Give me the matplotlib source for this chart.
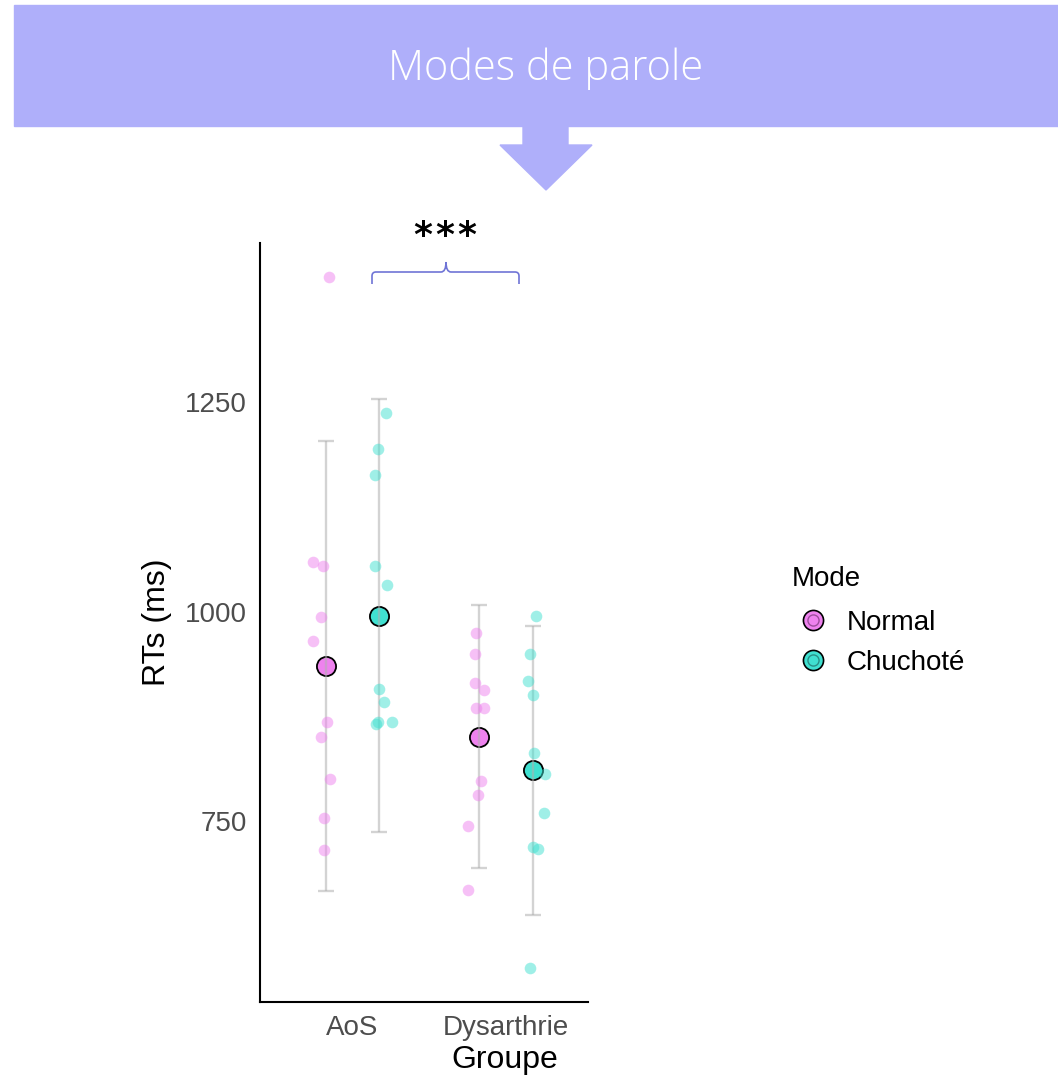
import matplotlib
matplotlib.use("Agg")
import numpy as np
import matplotlib.pyplot as plt
from matplotlib.patches import Rectangle, Polygon, PathPatch
from matplotlib.path import Path
from matplotlib.lines import Line2D
from matplotlib.legend_handler import HandlerTuple

plt.rcParams['font.family'] = ['Liberation Sans', 'DejaVu Sans']

# ---- data -----------------------------------------------------------------
groups = ["AoS", "Dysarthrie"]
modes = ["Normal", "Chuchoté"]

# participant mean RTs (ms)
aos_normal = [1398, 1059, 1054, 994, 965, 868, 851, 801, 754, 716]
aos_chuchote = [1236, 1194, 1163, 1054, 1032, 908, 892, 868, 866, 868]
dys_normal = [974, 949, 915, 907, 885, 885, 798, 781, 745, 668]
dys_chuchote = [995, 949, 917, 901, 831, 806, 760, 719, 717, 576]

# horizontal jitter of each participant point (fraction of group spacing)
jit_aos_normal = [0.02, -0.08, -0.02, -0.03, -0.08, 0.01, -0.03, 0.03, -0.01, -0.01]
jit_aos_chuchote = [0.04, -0.01, -0.03, -0.03, 0.05, 0.0, 0.03, -0.01, -0.02, 0.08]
jit_dys_normal = [-0.02, -0.03, -0.03, 0.03, -0.02, 0.03, 0.01, -0.01, -0.07, -0.07]
jit_dys_chuchote = [0.02, -0.02, -0.03, 0.0, 0.01, 0.08, 0.07, 0.0, 0.03, -0.02]

# condition means and standard deviations (ms), per group
mean_normal = [935, 851]
mean_chuchote = [995, 811]
sd_normal = [268, 157]
sd_chuchote = [258, 172]

# ---- styling ----------------------------------------------------------------
colors = {"Normal": "#EE82EE", "Chuchoté": "#40E0D0"}
ring = {"Normal": "#9C4E9C", "Chuchoté": "#2A8F86"}
dodge = 0.175
W, H = 1058, 1078

fig = plt.figure(figsize=(W / 100, H / 100), dpi=100)


def fx(px):
    return px / W


def fy(py):
    return 1 - py / H


ax = fig.add_axes([fx(260), fy(1002), 328 / W, 759 / H])

series = {
    "Normal": ([aos_normal, dys_normal], [jit_aos_normal, jit_dys_normal],
               mean_normal, sd_normal, -dodge),
    "Chuchoté": ([aos_chuchote, dys_chuchote], [jit_aos_chuchote, jit_dys_chuchote],
                 mean_chuchote, sd_chuchote, dodge),
}

all_vals = []
for mode, (vals, jits, means, sds, off) in series.items():
    xc = np.arange(1, len(groups) + 1) + off
    # mean markers
    ax.scatter(xc, means, s=190, color=colors[mode], edgecolor="black",
               linewidth=1.3, zorder=2)
    # +/- SD bars
    ax.errorbar(xc, means, yerr=sds, fmt="none", ecolor="#B0B0B0", alpha=0.55,
                elinewidth=1.7, capsize=5.5, capthick=1.7, zorder=3)
    # individual participants
    for g, (v, j) in enumerate(zip(vals, jits)):
        x = xc[g] + np.asarray(j)
        ax.scatter(x, v, s=70, color=colors[mode], alpha=0.5, linewidth=0,
                   zorder=4)
        all_vals.extend(v)

lo, hi = min(all_vals), max(all_vals)
pad = 0.05 * (hi - lo)
ax.set_ylim(lo - pad, hi + pad)
ax.set_xlim(0.397, 2.534)

ax.set_xticks([1, 2])
ax.set_xticklabels(groups)
ax.set_yticks([750, 1000, 1250])
ax.tick_params(axis="both", length=0, pad=9.5, labelsize=20, labelcolor="#4D4D4D")

for s in ("top", "right"):
    ax.spines[s].set_visible(False)
for s in ("left", "bottom"):
    ax.spines[s].set_linewidth(1.5)
    ax.spines[s].set_color("black")

ax.set_ylabel("RTs (ms)", fontsize=23)
ax.yaxis.set_label_coords(-0.268, 0.5)
ax.set_xlabel("Groupe", fontsize=23)
ax.xaxis.set_label_coords(0.747, -0.057)

# ---- legend ---------------------------------------------------------------
handles = []
for mode in modes:
    outer = Line2D([], [], ls="none", marker="o", markersize=14.5,
                   markerfacecolor=colors[mode], markeredgecolor="black",
                   markeredgewidth=1.2)
    inner = Line2D([], [], ls="none", marker="o", markersize=8,
                   markerfacecolor=colors[mode], markeredgecolor=ring[mode],
                   markeredgewidth=1.0)
    handles.append((outer, inner))

leg = fig.legend(handles, modes, handler_map={tuple: HandlerTuple(ndivide=1)},
                 loc="upper left", bbox_to_anchor=(fx(792), fy(566)),
                 frameon=False, borderpad=0, borderaxespad=0, title="Mode",
                 alignment="left", fontsize=20, title_fontsize=20,
                 handlelength=1.5, handletextpad=0.47, labelspacing=0.5)
leg._legend_box.sep = 13

# ---- header banner with arrow --------------------------------------------
banner_color = "#AFAFFA"
fig.patches.append(Rectangle((fx(14), fy(126)), fx(W - 14), 121 / H,
                             transform=fig.transFigure, color=banner_color,
                             zorder=0))
arrow_px = [(523, 125), (568, 125), (568, 145), (592, 145), (546, 190),
            (500, 145), (523, 145)]
fig.patches.append(Polygon([(fx(x), fy(y)) for x, y in arrow_px], closed=True,
                           transform=fig.transFigure, color=banner_color,
                           zorder=0))
fig.text(fx(546), fy(80), "Modes de parole", color="white", fontsize=30,
         ha="center", va="baseline", family=["Open Sans", "DejaVu Sans"],
         fontweight="light")

# ---- significance brace ---------------------------------------------------
verts = [(372, 284), (372, 276), (372, 272), (376, 272), (441, 272),
         (446, 272), (446, 262), (446, 272), (451, 272), (515, 272),
         (519, 272), (519, 276), (519, 284)]
codes = [Path.MOVETO, Path.LINETO, Path.CURVE3, Path.CURVE3, Path.LINETO,
         Path.CURVE3, Path.CURVE3, Path.CURVE3, Path.CURVE3, Path.LINETO,
         Path.CURVE3, Path.CURVE3, Path.LINETO]
brace = Path([(fx(x), fy(y)) for x, y in verts], codes)
fig.patches.append(PathPatch(brace, transform=fig.transFigure, fill=False,
                             edgecolor="#6F74D6", linewidth=1.2))
for xs in (423, 445, 467):
    fig.text(fx(xs), fy(236), "*", fontsize=26, ha="center", va="center",
             family="DejaVu Sans", fontweight="bold", color="black")

fig.savefig("out.png", dpi=100, facecolor="white")
